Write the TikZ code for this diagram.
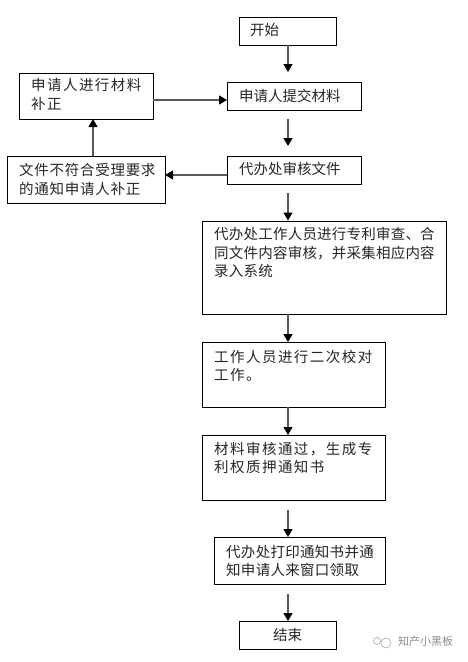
\documentclass[tikz,border=0pt]{standalone}
\usepackage{fontspec}
\setmainfont{Noto Sans CJK SC}
\usetikzlibrary{arrows.meta}
\tikzset{
  x=1pt,y=-1pt,
  boxn/.style={draw=black,line width=0.7pt,fill=white,rectangle,inner sep=0pt,outer sep=0pt},
  txt/.style={anchor=north west,inner sep=0pt,align=left,text=black!85,
    font=\fontsize{14.5}{18.5}\selectfont\addfontfeature{LetterSpace=#1}},
  txt/.default=0,
  arr/.style={draw=black!65,line width=1.3pt,-{Triangle[length=8pt,width=9pt,color=black]}},
  mark bubble/.style={draw=black!35,line width=0.6pt,fill=white},
}
\begin{document}
\begin{tikzpicture}
\useasboundingbox (0,0) rectangle (467,662);
\node[boxn,minimum width=97,minimum height=28] (start) at (287.5,31) {};
\node[boxn,minimum width=134,minimum height=28] (submit) at (294,96) {};
\node[boxn,minimum width=134,minimum height=28] (review) at (294,170) {};
\node[boxn,minimum width=134,minimum height=46] (fix) at (86,96) {};
\node[boxn,minimum width=158,minimum height=47] (notice) at (86,180) {};
\node[boxn,minimum width=244,minimum height=93] (big) at (324,267.5) {};
\node[boxn,minimum width=183,minimum height=65] (second) at (293.5,374.5) {};
\node[boxn,minimum width=183,minimum height=65] (pass) at (293.5,467.5) {};
\node[boxn,minimum width=171,minimum height=47] (print) at (299.5,560.5) {};
\node[boxn,minimum width=97,minimum height=28] (finish) at (287.5,635) {};
\node[txt=0] (t1) at (250,23.5) {开始};
\node[txt=0] (t2) at (239,88.5) {申请人提交材料};
\node[txt=0] (t3) at (239,162.5) {代办处审核文件};
\node[txt=10] (t4) at (31,78.5) {申请人进行材料\\补正};
\node[txt=5] (t5) at (19,163.5) {文件不符合受理要求\\的通知申请人补正};
\node[txt=1.5] (t6) at (214,227.5) {代办处工作人员进行专利审查、合\\同文件内容审核，并采集相应内容\\录入系统};
\node[txt=10] (t7) at (214,350) {工作人员进行二次校对\\工作。};
\node[txt=10] (t8) at (214,442) {材料审核通过，生成专\\利权质押通知书};
\node[txt=2] (t9) at (226,545) {代办处打印通知书并通\\知申请人来窗口领取};
\node[txt=0] (t10) at (273,628) {结束};
\node[anchor=west,inner sep=0pt,font=\fontsize{11}{13}\selectfont,text=black!45] (wm) at (398,641) {知产小黑板};
\draw[mark bubble] (377,641) circle (3.5);
\draw[mark bubble] (386,643) circle (5);
\coordinate (a1) at (288,72);
\coordinate (a2) at (288,119);
\coordinate (a3) at (288,146);
\coordinate (a4) at (288,193);
\coordinate (a5) at (288,220.5);
\draw[arr] (start.south -| a1) -- (a1);
\draw[arr] (a2) -- (a3);
\draw[arr] (a4) -- (a5);
\draw[arr] (big.south -| a1) -- (second.north -| a1);
\draw[arr] (second.south -| a1) -- (pass.north -| a1);
\coordinate (a6) at (288,510);
\coordinate (a7) at (288,537);
\draw[arr] (a6) -- (a7);
\coordinate (a8) at (288,594);
\draw[arr] (a8) -- (finish.north -| a1);
\draw[arr] (fix.east) ++(0,4) coordinate (f1) -- (f1 -| submit.west);
\draw[arr] (review.west) ++(0,5) coordinate (r1) -- (r1 -| notice.east);
\coordinate (n1) at (93,156);
\draw[arr] (n1) -- (n1 |- fix.south);
\end{tikzpicture}
\end{document}
